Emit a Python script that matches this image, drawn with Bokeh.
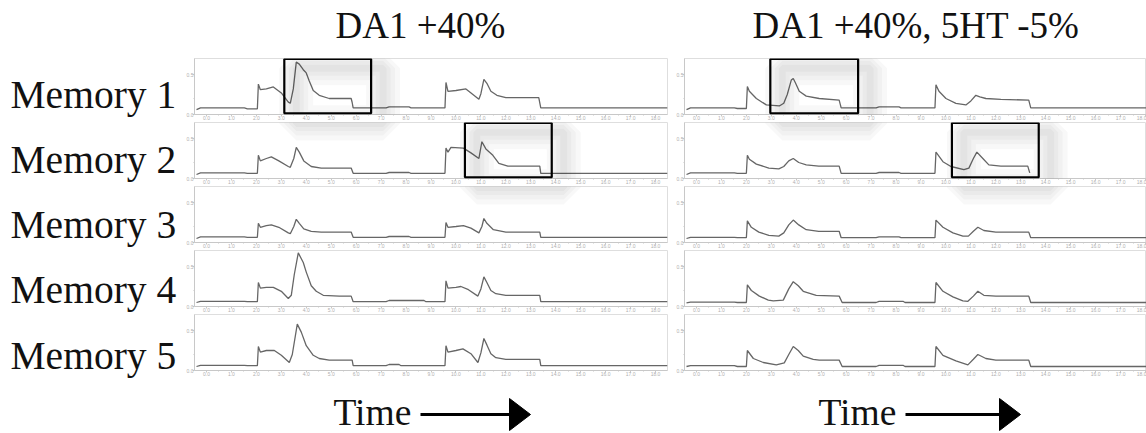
from bokeh.plotting import figure
from bokeh.layouts import column, row
from bokeh.models import BoxAnnotation, FixedTicker, NumeralTickFormatter
from bokeh.core.properties import value
from bokeh.embed import file_html
from bokeh.resources import INLINE

# ---------------- data ----------------
memories = ["Memory 1", "Memory 2", "Memory 3", "Memory 4", "Memory 5"]
conditions = ["DA1 +40%", "DA1 +40%, 5HT -5%"]
x_label = "Time"
x_ticks = list(range(19))
y_ticks = [0.0, 0.5]

# DA1 +40%
mem1_da_t = [-0.40, -0.24, 1.52, 1.64, 2.04, 2.08, 2.16, 2.40, 2.68, 3.00, 3.28, 3.36, 3.48, 3.60, 3.72, 3.88, 4.00, 4.12, 4.28, 4.52, 4.92, 5.80, 5.84, 5.88, 7.20, 7.32, 8.12, 8.20, 9.56, 9.60, 9.68, 10.00, 10.40, 10.68, 10.92, 11.00, 11.12, 11.24, 11.40, 11.64, 12.00, 13.32, 13.40, 18.48]
mem1_da_v = [0.06, 0.083, 0.083, 0.071, 0.071, 0.38, 0.31, 0.32, 0.345, 0.27, 0.155, 0.14, 0.32, 0.655, 0.63, 0.56, 0.52, 0.42, 0.30, 0.24, 0.20, 0.20, 0.15, 0.083, 0.083, 0.095, 0.095, 0.083, 0.083, 0.40, 0.29, 0.30, 0.32, 0.25, 0.19, 0.26, 0.44, 0.39, 0.29, 0.24, 0.21, 0.21, 0.083, 0.083]

mem2_da_t = [-0.40, -0.24, 1.52, 1.64, 2.04, 2.08, 2.16, 2.40, 2.60, 2.90, 3.28, 3.36, 3.50, 3.60, 3.72, 3.90, 4.20, 4.60, 5.80, 5.88, 7.20, 7.32, 8.12, 8.20, 9.56, 9.60, 9.68, 9.80, 10.30, 10.60, 10.92, 11.04, 11.20, 11.48, 11.72, 12.08, 13.36, 13.40, 18.48]
mem2_da_v = [0.05, 0.07, 0.07, 0.065, 0.065, 0.29, 0.22, 0.25, 0.27, 0.22, 0.15, 0.14, 0.25, 0.39, 0.33, 0.22, 0.15, 0.13, 0.13, 0.065, 0.065, 0.075, 0.075, 0.065, 0.065, 0.38, 0.33, 0.39, 0.38, 0.32, 0.25, 0.46, 0.37, 0.29, 0.19, 0.155, 0.155, 0.065, 0.065]

mem3_da_t = [-0.40, -0.24, 1.52, 1.64, 2.04, 2.08, 2.16, 2.40, 2.60, 2.90, 3.28, 3.36, 3.50, 3.60, 3.72, 3.90, 4.20, 4.60, 5.80, 5.88, 7.20, 7.32, 8.12, 8.20, 9.56, 9.60, 9.68, 10.00, 10.30, 10.60, 10.92, 11.04, 11.12, 11.24, 11.50, 12.00, 13.36, 13.40, 18.48]
mem3_da_v = [0.05, 0.07, 0.07, 0.065, 0.065, 0.24, 0.19, 0.21, 0.22, 0.19, 0.12, 0.11, 0.20, 0.29, 0.24, 0.17, 0.14, 0.13, 0.13, 0.065, 0.065, 0.075, 0.075, 0.065, 0.065, 0.25, 0.19, 0.20, 0.21, 0.18, 0.12, 0.20, 0.30, 0.24, 0.16, 0.13, 0.13, 0.065, 0.065]

mem4_da_t = [-0.40, -0.24, 1.52, 1.64, 2.04, 2.08, 2.16, 2.40, 2.68, 3.00, 3.28, 3.40, 3.52, 3.68, 3.88, 4.00, 4.20, 4.40, 4.68, 5.32, 5.80, 5.88, 7.20, 7.32, 8.72, 8.80, 9.56, 9.60, 9.68, 10.00, 10.20, 10.50, 10.88, 11.00, 11.12, 11.24, 11.40, 11.60, 12.00, 13.36, 13.40, 18.48]
mem4_da_v = [0.05, 0.065, 0.065, 0.06, 0.06, 0.30, 0.23, 0.24, 0.24, 0.19, 0.10, 0.14, 0.40, 0.67, 0.55, 0.43, 0.26, 0.19, 0.14, 0.13, 0.13, 0.06, 0.06, 0.075, 0.075, 0.06, 0.06, 0.32, 0.23, 0.24, 0.25, 0.21, 0.13, 0.22, 0.37, 0.30, 0.20, 0.16, 0.14, 0.14, 0.06, 0.06]

mem5_da_t = [-0.40, -0.24, 1.52, 1.64, 2.04, 2.08, 2.16, 2.40, 2.72, 3.00, 3.32, 3.44, 3.64, 3.80, 4.00, 4.28, 4.52, 4.92, 5.84, 5.88, 7.20, 7.32, 7.72, 7.80, 9.56, 9.60, 9.68, 10.00, 10.28, 10.60, 10.88, 11.00, 11.12, 11.24, 11.40, 11.60, 12.00, 13.36, 13.40, 18.48]
mem5_da_v = [0.05, 0.065, 0.065, 0.06, 0.06, 0.30, 0.23, 0.25, 0.25, 0.19, 0.10, 0.20, 0.58, 0.48, 0.31, 0.19, 0.15, 0.13, 0.13, 0.06, 0.06, 0.075, 0.075, 0.06, 0.06, 0.31, 0.23, 0.25, 0.27, 0.21, 0.10, 0.22, 0.40, 0.32, 0.21, 0.16, 0.14, 0.14, 0.06, 0.06]

# DA1 +40%, 5HT -5%
mem1_ht_t = [-0.40, -0.24, 1.52, 1.64, 2.00, 2.04, 2.12, 2.40, 2.80, 3.32, 3.50, 3.64, 3.80, 3.88, 3.96, 4.12, 4.40, 4.92, 5.72, 5.80, 7.20, 7.32, 8.12, 8.20, 9.56, 9.60, 9.72, 10.00, 10.40, 10.80, 11.00, 11.20, 11.36, 11.60, 12.20, 13.32, 13.40, 18.48]
mem1_ht_v = [0.06, 0.083, 0.083, 0.075, 0.075, 0.35, 0.29, 0.20, 0.12, 0.107, 0.14, 0.25, 0.43, 0.45, 0.40, 0.29, 0.23, 0.20, 0.18, 0.083, 0.083, 0.095, 0.095, 0.083, 0.083, 0.37, 0.29, 0.20, 0.14, 0.12, 0.17, 0.24, 0.22, 0.20, 0.19, 0.18, 0.083, 0.083]

mem2_ht_t = [-0.40, -0.24, 1.52, 1.64, 2.00, 2.04, 2.12, 2.40, 2.90, 3.30, 3.50, 3.70, 3.88, 4.10, 4.40, 4.90, 5.72, 5.80, 7.20, 7.32, 8.12, 8.20, 9.56, 9.60, 9.88, 10.20, 10.72, 10.92, 11.10, 11.24, 11.48, 11.72, 12.20, 13.28, 13.36]
mem2_ht_v = [0.05, 0.07, 0.07, 0.065, 0.065, 0.29, 0.24, 0.18, 0.13, 0.12, 0.15, 0.22, 0.25, 0.20, 0.17, 0.155, 0.155, 0.065, 0.065, 0.075, 0.075, 0.065, 0.065, 0.33, 0.21, 0.15, 0.11, 0.13, 0.25, 0.33, 0.25, 0.17, 0.155, 0.155, 0.07]

mem3_ht_t = [-0.40, -0.24, 1.52, 1.64, 2.00, 2.04, 2.20, 2.50, 2.90, 3.30, 3.50, 3.70, 3.88, 4.10, 4.40, 4.90, 5.72, 5.80, 7.20, 7.32, 8.12, 8.20, 9.56, 9.60, 9.88, 10.28, 10.68, 10.90, 11.10, 11.28, 11.52, 12.00, 13.32, 13.40, 18.48]
mem3_ht_v = [0.05, 0.065, 0.065, 0.06, 0.06, 0.27, 0.19, 0.13, 0.09, 0.08, 0.12, 0.22, 0.28, 0.22, 0.16, 0.14, 0.14, 0.06, 0.06, 0.07, 0.07, 0.06, 0.06, 0.28, 0.19, 0.12, 0.08, 0.08, 0.14, 0.19, 0.15, 0.13, 0.13, 0.06, 0.06]

mem4_ht_t = [-0.40, -0.24, 1.52, 1.64, 2.00, 2.04, 2.20, 2.52, 2.88, 3.08, 3.48, 3.70, 3.88, 4.08, 4.28, 4.80, 5.72, 5.84, 7.20, 7.32, 8.28, 8.36, 9.56, 9.60, 9.88, 10.28, 10.68, 10.88, 11.10, 11.28, 11.52, 12.00, 13.32, 13.40, 18.48]
mem4_ht_v = [0.045, 0.055, 0.055, 0.05, 0.05, 0.27, 0.20, 0.13, 0.08, 0.07, 0.08, 0.22, 0.31, 0.26, 0.19, 0.14, 0.13, 0.05, 0.05, 0.065, 0.065, 0.05, 0.05, 0.30, 0.19, 0.12, 0.07, 0.065, 0.13, 0.19, 0.14, 0.13, 0.13, 0.05, 0.05]

mem5_ht_t = [-0.40, -0.24, 1.52, 1.64, 2.00, 2.04, 2.28, 2.68, 3.20, 3.52, 3.70, 3.88, 4.08, 4.28, 4.68, 4.92, 5.72, 5.84, 7.20, 7.32, 8.28, 8.36, 9.56, 9.60, 9.88, 10.40, 10.88, 11.10, 11.28, 11.60, 12.00, 13.32, 13.40, 18.48]
mem5_ht_v = [0.05, 0.06, 0.06, 0.05, 0.05, 0.25, 0.15, 0.10, 0.07, 0.095, 0.20, 0.30, 0.25, 0.18, 0.14, 0.13, 0.13, 0.05, 0.05, 0.065, 0.065, 0.05, 0.05, 0.30, 0.19, 0.12, 0.07, 0.14, 0.20, 0.15, 0.13, 0.13, 0.05, 0.05]

# highlighted windows: (memory row, condition column, start time, end time)
highlights = [(0, 0, 3.12, 6.60), (1, 0, 10.36, 13.84), (0, 1, 2.96, 6.48), (1, 1, 10.24, 13.72)]

series = [
    [(mem1_da_t, mem1_da_v), (mem1_ht_t, mem1_ht_v)],
    [(mem2_da_t, mem2_da_v), (mem2_ht_t, mem2_ht_v)],
    [(mem3_da_t, mem3_da_v), (mem3_ht_t, mem3_ht_v)],
    [(mem4_da_t, mem4_da_v), (mem4_ht_t, mem4_ht_v)],
    [(mem5_da_t, mem5_da_v), (mem5_ht_t, mem5_ht_v)],
]
for r in series:
    for t, v in r:
        assert len(t) == len(v), (len(t), len(v))

# ---------------- layout ----------------
SERIF = value("Liberation Serif")
LABEL_W = 183
PANEL_W = [490, 473]
ROW_H = 64
TOP_H = 58
BOT_H = 55
TOTAL_W = LABEL_W + sum(PANEL_W)
X_END = [18.48, 18.04]
Y_END = 0.70
LABEL_Y = [284, 219, 154, 89, 23]   # label centres in the label strip (px from its bottom)


def blank(w, h):
    f = figure(width=w, height=h, x_range=(0, w), y_range=(0, h),
               output_backend="svg", toolbar_location=None,
               min_border=0, x_axis_type=None, y_axis_type=None)
    f.outline_line_color = None
    f.grid.visible = False
    return f


def shadow(p, a, b, top, bottom):
    for s in (34, 24, 15, 7):
        p.add_layout(BoxAnnotation(left=a, right=b, top=top, bottom=bottom,
                                   fill_color=None, fill_alpha=0, line_color="black",
                                   line_alpha=0.028, line_width=s))


def panel(ri, ci):
    w = PANEL_W[ci]
    p = figure(width=w, height=ROW_H, x_range=(-0.48, X_END[ci]), y_range=(0, Y_END),
               output_backend="svg", toolbar_location=None,
               min_border_left=10, min_border_right=6 if ci == 0 else 0,
               min_border_top=0, min_border_bottom=0)
    p.grid.visible = False
    p.outline_line_color = "#dedede"
    for ax in (p.xaxis[0], p.yaxis[0]):
        ax.axis_line_color = "#c8c8c8"
        ax.major_tick_line_color = "#c8c8c8"
        ax.minor_tick_line_color = "#c8c8c8"
        ax.major_tick_out = 2
        ax.major_tick_in = 0
        ax.minor_tick_out = 1
        ax.minor_tick_in = 0
        ax.major_label_standoff = -1
        ax.major_label_text_font_size = "5px"
        ax.major_label_text_color = "#b0b0b0"
    p.xaxis.ticker = FixedTicker(ticks=x_ticks, minor_ticks=[k + 0.5 for k in x_ticks])
    p.yaxis.ticker = FixedTicker(ticks=y_ticks, minor_ticks=[0.2])
    p.xaxis.formatter = NumeralTickFormatter(format="0.0")
    p.yaxis.formatter = NumeralTickFormatter(format="0.0")
    dx = 1.0 / 25.0
    dy = Y_END / 57.0
    # shadow spilling over from a highlighted window in the row above
    for (hr, hc, a, b) in highlights:
        if hr == ri - 1 and hc == ci:
            shadow(p, a + 12 * dx, b + 12 * dx, Y_END + 80 * dy, Y_END - 1 * dy)
    t, v = series[ri][ci]
    p.line(t, v, line_color="#666666", line_width=1.3)
    for (hr, hc, a, b) in highlights:
        if hr == ri and hc == ci:
            shadow(p, a + 12 * dx, b + 12 * dx, Y_END - 10 * dy, -8 * dy)
            p.add_layout(BoxAnnotation(left=a, right=b, top=Y_END - 0.4 * dy, bottom=1.2 * dy,
                                       fill_color=None, fill_alpha=0,
                                       line_color="black", line_alpha=1.0,
                                       line_width=2.2))
    return p


# titles
top = blank(TOTAL_W, TOP_H)
top.text(x=[420, 915.5], y=[33, 33], text=conditions, text_font=SERIF,
         text_font_size="37px", text_align="center", text_baseline="middle",
         text_color="#111111")

labels = blank(LABEL_W, 5 * ROW_H)
labels.text(x=[10] * 5, y=LABEL_Y, text=memories, text_font=SERIF,
            text_font_size="39.5px", text_align="left", text_baseline="middle",
            text_color="#111111")

grid_rows = [row(panel(ri, 0), panel(ri, 1), spacing=0) for ri in range(5)]
middle = row(labels, column(*grid_rows, spacing=0), spacing=0)

bot = blank(TOTAL_W, BOT_H)
for tx, l0, l1 in ((333, 420, 510), (818, 905, 1000)):
    bot.text(x=[tx], y=[21], text=[x_label], text_font=SERIF, text_font_size="37.5px",
             text_align="left", text_baseline="middle", text_color="#111111")
    bot.segment(x0=[l0], y0=[19], x1=[l1], y1=[19], line_color="black", line_width=3)
    bot.patch(x=[l1 - 1, l1 + 20, l1 - 1], y=[3, 19, 35], fill_color="black", line_color="black")

layout = column(top, middle, bot, spacing=0)
open("out.html", "w").write(file_html(layout, INLINE))
